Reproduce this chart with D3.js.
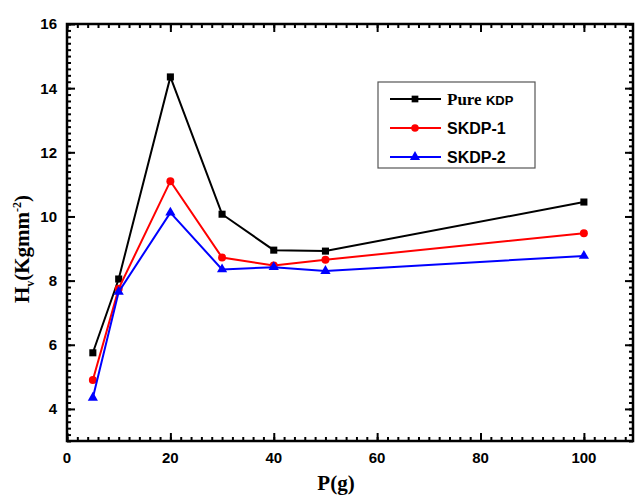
<!DOCTYPE html>
<html>
<head>
<meta charset="utf-8">
<script src="https://cdn.jsdelivr.net/npm/d3@7"></script>
<style>
  body { margin: 0; background: #fff; }
  svg { display: block; }
</style>
</head>
<body>
<svg id="chart" width="635" height="498"></svg>
<script>
'use strict';

// loads in grams
let loads = [5, 10, 20, 30, 40, 50, 100];
// Vickers hardness, Kg mm^-2
let pureKDP = [5.75, 8.05, 14.35, 10.07, 8.95, 8.92, 10.45];
let skdp1 = [4.9, 7.75, 11.1, 8.72, 8.47, 8.65, 9.48];
let skdp2 = [4.35, 7.65, 10.12, 8.35, 8.42, 8.3, 8.77];

let xTicks = [0, 20, 40, 60, 80, 100];
let yTicks = [4, 6, 8, 10, 12, 14, 16];

let seriesNames = ["Pure", "SKDP-1", "SKDP-2"];
let seriesColors = ["#000000", "#ff0000", "#0000ff"];
let seriesSymbols = [d3.symbolSquare, d3.symbolCircle, d3.symbolTriangle];

function getChartConfig() {
    let margin = { top: 24, right: 2, bottom: 57, left: 67 },
        width = 635 - margin.left - margin.right,
        height = 498 - margin.top - margin.bottom;

    let svg = d3.select("#chart");
    let container = svg.append("g")
        .attr("transform", "translate(" + margin.left + "," + margin.top + ")");

    return { width, height, container, margin, svg };
}

function getScales(config) {
    let { width, height } = config;
    let xScale = d3.scaleLinear().domain([0, 109.5]).range([0, width]);
    let yScale = d3.scaleLinear().domain([3, 16]).range([height, 0]);
    return { xScale, yScale };
}

function drawAxes(config, scales) {
    let { container, width, height } = config;
    let { xScale, yScale } = scales;

    let xMinor = d3.range(0, 110, 2);
    let yMinor = d3.range(3, 16.01, 0.2);

    // inward ticks on all four sides
    function ticks(axisFn, scale, values, size, transform) {
        container.append("g")
            .attr("transform", transform)
            .call(axisFn(scale).tickValues(values).tickSize(size).tickFormat(""))
            .call(g => g.select(".domain").remove())
            .selectAll("line").attr("stroke", "#000").attr("stroke-width", 2);
    }

    ticks(d3.axisTop, xScale, xMinor, 4, "translate(0," + height + ")");
    ticks(d3.axisTop, xScale, xTicks, 8, "translate(0," + height + ")");
    ticks(d3.axisBottom, xScale, xMinor, 4, "translate(0,0)");
    ticks(d3.axisBottom, xScale, xTicks, 8, "translate(0,0)");
    ticks(d3.axisRight, yScale, yMinor, 4, "translate(0,0)");
    ticks(d3.axisRight, yScale, yTicks, 8, "translate(0,0)");
    ticks(d3.axisLeft, yScale, yMinor, 4, "translate(" + width + ",0)");
    ticks(d3.axisLeft, yScale, yTicks, 8, "translate(" + width + ",0)");

    container.append("rect")
        .attr("width", width).attr("height", height)
        .attr("fill", "none").attr("stroke", "#000").attr("stroke-width", 2.5);

    // tick labels
    container.selectAll(".xlab").data(xTicks).enter()
        .append("text")
        .attr("x", d => xScale(d))
        .attr("y", height + 22)
        .attr("text-anchor", "middle")
        .style("font-family", "'Liberation Sans', Arial, sans-serif")
        .style("font-weight", "bold")
        .style("font-size", "15px")
        .text(d => d);

    container.selectAll(".ylab").data(yTicks).enter()
        .append("text")
        .attr("x", -10)
        .attr("y", d => yScale(d))
        .attr("dy", "0.36em")
        .attr("text-anchor", "end")
        .style("font-family", "'Liberation Sans', Arial, sans-serif")
        .style("font-weight", "bold")
        .style("font-size", "15px")
        .text(d => d);

    // axis titles
    container.append("text")
        .attr("x", 269)
        .attr("y", height + 49)
        .attr("text-anchor", "middle")
        .style("font-family", "'Liberation Serif', 'Times New Roman', serif")
        .style("font-weight", "bold")
        .style("font-size", "21px")
        .text("P(g)");

    let yTitle = container.append("text")
        .attr("transform", "translate(-38,225) rotate(-90)")
        .attr("text-anchor", "middle")
        .style("font-family", "'Liberation Serif', 'Times New Roman', serif")
        .style("font-weight", "bold")
        .style("font-size", "21px");
    yTitle.append("tspan").text("H");
    yTitle.append("tspan").attr("dy", 5).style("font-size", "12px").text("v");
    yTitle.append("tspan").attr("dy", -5).text("(Kgmm");
    yTitle.append("tspan").attr("dy", -8).style("font-size", "12px").text("-2");
    yTitle.append("tspan").attr("dy", 8).text(")");
}

function drawSeries(config, scales) {
    let { container } = config;
    let { xScale, yScale } = scales;
    let allSeries = [pureKDP, skdp1, skdp2];

    let line = d3.line()
        .x((d, i) => xScale(loads[i]))
        .y(d => yScale(d));

    allSeries.forEach((values, s) => {
        container.append("path")
            .datum(values)
            .attr("d", line)
            .attr("fill", "none")
            .attr("stroke", seriesColors[s])
            .attr("stroke-width", 2);

        container.selectAll(".m" + s).data(values).enter()
            .append("path")
            .attr("transform", (d, i) => "translate(" + xScale(loads[i]) + "," + yScale(d) + ")")
            .attr("d", d3.symbol().type(seriesSymbols[s]).size(s === 2 ? 45 : 50))
            .attr("fill", seriesColors[s]);
    });
}

function drawLegend(config) {
    let { svg } = config;
    let legend = svg.append("g").attr("transform", "translate(378,82)");

    legend.append("rect")
        .attr("width", 157).attr("height", 86)
        .attr("fill", "#fff").attr("stroke", "#555").attr("stroke-width", 1.2);

    let rows = legend.selectAll(".row").data(seriesNames).enter()
        .append("g")
        .attr("transform", (d, i) => "translate(0," + (17 + i * 29) + ")");

    rows.append("line")
        .attr("x1", 12).attr("x2", 63)
        .attr("stroke", (d, i) => seriesColors[i])
        .attr("stroke-width", 2);

    rows.append("path")
        .attr("transform", "translate(37,0)")
        .attr("d", (d, i) => d3.symbol().type(seriesSymbols[i]).size(45)())
        .attr("fill", (d, i) => seriesColors[i]);

    rows.each(function (d, i) {
        let t = d3.select(this).append("text")
            .attr("x", 69)
            .attr("dy", "0.35em")
            .style("font-weight", "bold");
        if (i === 0) {
            t.append("tspan")
                .style("font-family", "'Liberation Serif', 'Times New Roman', serif")
                .style("font-size", "17px")
                .text("Pure ");
            t.append("tspan")
                .style("font-family", "'Liberation Sans', Arial, sans-serif")
                .style("font-size", "13px")
                .text("KDP");
        } else {
            t.style("font-family", "'Liberation Sans', Arial, sans-serif")
                .style("font-size", "16px")
                .text(d);
        }
    });
}

function drawChart() {
    let config = getChartConfig();
    let scales = getScales(config);
    drawAxes(config, scales);
    drawSeries(config, scales);
    drawLegend(config);
}

drawChart();
</script>
</body>
</html>
